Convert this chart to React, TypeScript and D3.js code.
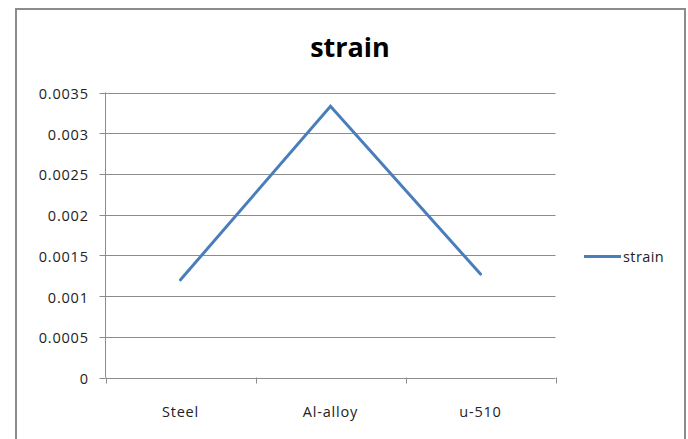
import React from "react";
import * as d3 from "d3";

const categories = ["Steel", "Al-alloy", "u-510"];
const strainValues = [0.0012, 0.00333, 0.00127];
const yTicks = [0, 0.0005, 0.001, 0.0015, 0.002, 0.0025, 0.003, 0.0035];
const yTickLabels = ["0", "0.0005", "0.001", "0.0015", "0.002", "0.0025", "0.003", "0.0035"];
const seriesName = "strain";
const title = "strain";

export default function App() {
  const W = 688, H = 439;
  const left = 105.5, right = 555.5, top = 92.5, bottom = 377.5;
  const x = d3.scaleBand<string>().domain(categories).range([left, right]).padding(0);
  const y = d3.scaleLinear().domain([0, 0.0035]).range([bottom, top]);
  const line = d3.line<number>()
    .x((_, i) => (x(categories[i]) as number) + x.bandwidth() / 2)
    .y((d) => y(d));
  const font = "'Open Sans', sans-serif";
  const catTicks = [...categories.map((c) => x(c) as number), right];
  const ls = 0.8;

  return (
    <svg width={W} height={H} style={{ position: "absolute", left: 0, top: 0 }}>
      <rect x={0} y={0} width={W} height={H} fill="#fff" />
      <rect x={16} y={9} width={669} height={450} fill="#fff" stroke="#8c8c8c" strokeWidth={2} />
      <text x={350} y={57} textAnchor="middle" fontFamily={font} fontWeight="bold" fontSize={27} fill="#000">{title}</text>
      {yTicks.map((t, i) => (
        <g key={i}>
          <line x1={left} x2={right} y1={Math.round(y(t)) + 0.5} y2={Math.round(y(t)) + 0.5} stroke="#8c8c8c" strokeWidth={1} />
          <line x1={left - 6} x2={left} y1={Math.round(y(t)) + 0.5} y2={Math.round(y(t)) + 0.5} stroke="#8c8c8c" strokeWidth={1} />
          <text x={88 + ls} y={y(t) + 6.5} textAnchor="end" fontFamily={font} fontSize={14.5} letterSpacing={ls} fill="#222">{yTickLabels[i]}</text>
        </g>
      ))}
      <line x1={left} x2={left} y1={top} y2={bottom} stroke="#8c8c8c" strokeWidth={1} />
      {catTicks.map((cx, i) => (
        <line key={i} x1={Math.round(cx) + 0.5} x2={Math.round(cx) + 0.5} y1={bottom} y2={bottom + 6} stroke="#8c8c8c" strokeWidth={1} />
      ))}
      {categories.map((c) => (
        <text key={c} x={(x(c) as number) + x.bandwidth() / 2} y={417} textAnchor="middle" fontFamily={font} fontSize={14.5} letterSpacing={ls} fill="#222">{c}</text>
      ))}
      <path d={line(strainValues) || ""} fill="none" stroke="#4a7ebb" strokeWidth={3} strokeLinecap="round" strokeLinejoin="miter" />
      <line x1={584} x2={621} y1={256.5} y2={256.5} stroke="#4a7ebb" strokeWidth={3} />
      <text x={623} y={261.5} fontFamily={font} fontSize={14.5} letterSpacing={ls * 0.5} fill="#222">{seriesName}</text>
    </svg>
  );
}
